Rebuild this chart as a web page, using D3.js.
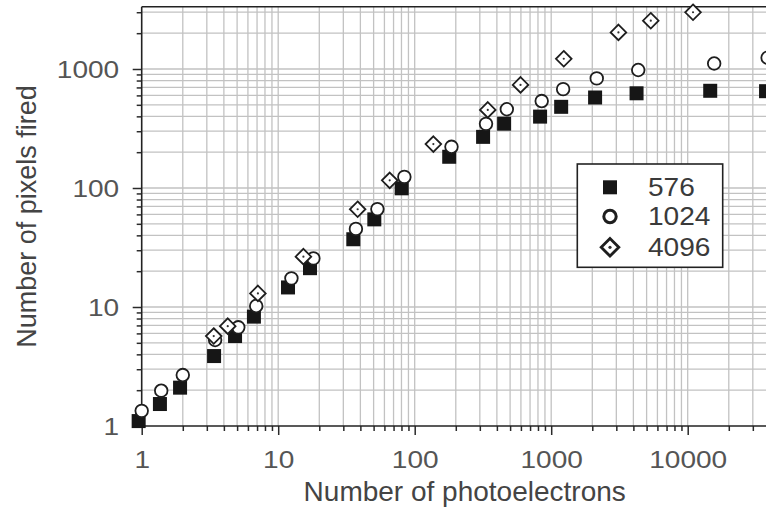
<!DOCTYPE html>
<html><head><meta charset="utf-8">
<script src="https://cdn.jsdelivr.net/npm/d3@7"></script>
<style>body{margin:0;background:#fff}svg{display:block}</style>
</head><body><svg id="c" width="766" height="509"></svg>
<script>
// ---- data ----
const seriesNames = ["576", "1024", "4096"];
const x576 = [0.95, 1.36, 1.91, 3.39, 4.83, 6.64, 11.8, 17.1, 35.5, 50.6, 80.3, 179, 317, 452, 829, 1183, 2097, 4220, 14620, 37500];
const y576 = [1.1, 1.53, 2.1, 3.87, 5.7, 8.3, 14.6, 21.2, 37.1, 54.5, 99.4, 183, 269, 347, 398, 481, 576, 625, 656, 651];
const x1024 = [1.0, 1.39, 2.0, 3.45, 5.1, 6.9, 12.5, 18.1, 37.1, 53.3, 84, 186, 333, 473, 852, 1223, 2156, 4340, 15630, 38500];
const y1024 = [1.34, 1.98, 2.68, 5.28, 6.75, 10.2, 17.4, 25.6, 45.3, 66.5, 124, 222, 346, 459, 538, 677, 834, 981, 1113, 1244];
const x4096 = [3.37, 4.27, 7.1, 15.3, 38.2, 65.6, 137, 343, 596, 1236, 3109, 5364, 10940];
const y4096 = [5.7, 6.9, 13.0, 26.5, 66.3, 116, 234, 453, 735, 1219, 2031, 2545, 2997];
const xTickValues = [1, 10, 100, 1000, 10000];
const yTickValues = [1, 10, 100, 1000];
const xTitle = "Number of photoelectrons";
const yTitle = "Number of pixels fired";

// ---- layout ----
const svg = d3.select("#c");
const L = 141.7, B = 426, T = 6.7, R = 766;
const x = d3.scaleLog().domain([1, 1e5]).range([L, L + 5 * 136.5]);
const y = d3.scaleLog().domain([1, 1e4]).range([B, B - 4 * 119]);
const FONT = "'Liberation Sans', Arial, Helvetica, sans-serif";

function minors(lo, hi) {
  const out = [];
  for (let d = lo; d < hi; d *= 10) for (let k = 2; k <= 9; k++) out.push(k * d);
  return out;
}
const xMinor = minors(1, 1e5);
const yMinor = minors(1, 1e4).filter(v => y(v) >= T - 0.5);

// grid
const grid = svg.append("g").attr("stroke", "#c2c2c2").attr("stroke-width", 1.3);
grid.selectAll("line.v").data(xMinor.concat(xTickValues.slice(1))).join("line")
  .attr("x1", d => x(d)).attr("x2", d => x(d)).attr("y1", T).attr("y2", B);
grid.selectAll("line.h").data(yMinor.concat(yTickValues.slice(1))).join("line")
  .attr("class", "h")
  .attr("y1", d => y(d)).attr("y2", d => y(d)).attr("x1", L).attr("x2", R);

// axes: minor ticks
const axMinorX = svg.append("g").attr("transform", `translate(0,${B})`)
  .call(d3.axisBottom(x).tickValues(xMinor).tickSize(5).tickFormat(""));
const axMinorY = svg.append("g").attr("transform", `translate(${L},0)`)
  .call(d3.axisLeft(y).tickValues(yMinor).tickSize(5).tickFormat(""));
// axes: major ticks with labels
const axX = svg.append("g").attr("transform", `translate(0,${B})`)
  .call(d3.axisBottom(x).tickValues(xTickValues).tickSize(9).tickPadding(0).tickFormat(d3.format("d")));
const axY = svg.append("g").attr("transform", `translate(${L},0)`)
  .call(d3.axisLeft(y).tickValues(yTickValues).tickSize(9).tickPadding(0).tickFormat(d3.format("d")));
[axMinorX, axMinorY, axX, axY].forEach(g => {
  g.select(".domain").remove();
  g.selectAll(".tick line").attr("stroke", "#2a2a2a").attr("stroke-width", 1.5);
});
const SX = 1.22;
axX.selectAll(".tick text")
  .attr("font-family", FONT).attr("font-size", 23).attr("fill", "#555")
  .attr("y", 42).attr("dy", 0).attr("transform", `scale(${SX},1)`);
axY.selectAll(".tick text")
  .attr("font-family", FONT).attr("font-size", 23).attr("fill", "#555")
  .attr("x", -22.5 / SX).attr("dy", "0.36em").attr("transform", `scale(${SX},1)`);

// frame
const frame = svg.append("g").attr("stroke", "#222").attr("stroke-width", 1.6).attr("fill", "none");
frame.append("line").attr("x1", L).attr("x2", R).attr("y1", T).attr("y2", T);
frame.append("line").attr("x1", L).attr("x2", L).attr("y1", T).attr("y2", B);
frame.append("line").attr("x1", L).attr("x2", R).attr("y1", B).attr("y2", B);

// markers
const pts = (xs, ys) => xs.map((v, i) => [v, ys[i]]);
const dia = (cx, cy, r) => `M${cx},${cy - r}L${cx + r},${cy}L${cx},${cy + r}L${cx - r},${cy}Z`;

svg.append("g").selectAll("rect").data(pts(x576, y576)).join("rect")
  .attr("x", d => x(d[0]) - 7).attr("y", d => y(d[1]) - 7)
  .attr("width", 14).attr("height", 14).attr("fill", "#161616");

svg.append("g").selectAll("circle").data(pts(x1024, y1024)).join("circle")
  .attr("cx", d => x(d[0])).attr("cy", d => y(d[1])).attr("r", 6.3)
  .attr("fill", "#fff").attr("stroke", "#1e1e1e").attr("stroke-width", 1.8);

const gd = svg.append("g");
gd.selectAll("path").data(pts(x4096, y4096)).join("path")
  .attr("d", d => dia(x(d[0]), y(d[1]), 7.8))
  .attr("fill", "#fff").attr("stroke", "#1e1e1e").attr("stroke-width", 1.8);
gd.selectAll("circle").data(pts(x4096, y4096)).join("circle")
  .attr("cx", d => x(d[0])).attr("cy", d => y(d[1])).attr("r", 1.1).attr("fill", "#333");

// legend
const lg = svg.append("g");
lg.append("rect").attr("x", 577.3).attr("y", 164).attr("width", 145.4).attr("height", 103.3)
  .attr("fill", "#fff").attr("stroke", "#222").attr("stroke-width", 1.6);
const ly = [187.3, 216.5, 247.3];
lg.append("rect").attr("x", 610 - 7).attr("y", ly[0] - 7).attr("width", 14).attr("height", 14).attr("fill", "#161616");
lg.append("circle").attr("cx", 610).attr("cy", ly[1]).attr("r", 6.2)
  .attr("fill", "#fff").attr("stroke", "#1e1e1e").attr("stroke-width", 3);
lg.append("path").attr("d", dia(610, ly[2], 8.8))
  .attr("fill", "#fff").attr("stroke", "#1e1e1e").attr("stroke-width", 2.8);
lg.append("circle").attr("cx", 610).attr("cy", ly[2]).attr("r", 1.6).attr("fill", "#333");
const LS = 1.08;
lg.selectAll("text").data(seriesNames).join("text")
  .attr("transform", (d, i) => `translate(648,${ly[i] + 8.5}) scale(${LS},1)`)
  .attr("font-family", FONT).attr("font-size", 26).attr("fill", "#3a3a3a")
  .text(d => d);

// axis titles
svg.append("text").attr("x", 464.7).attr("y", 501).attr("text-anchor", "middle")
  .attr("font-family", FONT).attr("font-size", 28).attr("fill", "#444").text(xTitle);
svg.append("text").attr("transform", "translate(36,216.5) rotate(-90)").attr("text-anchor", "middle")
  .attr("font-family", FONT).attr("font-size", 27).attr("fill", "#444").text(yTitle);
</script></body></html>
